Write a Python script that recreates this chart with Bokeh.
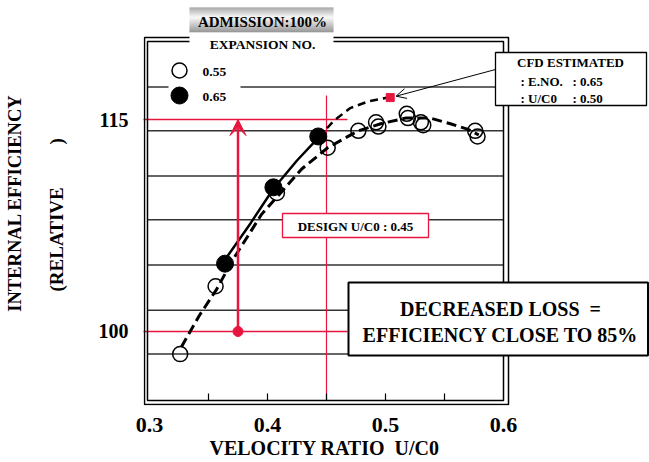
from bokeh.plotting import figure
from bokeh.models import Label, Arrow, VeeHead, OpenHead, Range1d, FixedTicker, LinearAxis, Title
from bokeh.embed import file_html
from bokeh.resources import INLINE

# ---------------- data ----------------
X_TICKS = [0.3, 0.4, 0.5, 0.6]
Y_TICKS = [100, 115]
GRID_Y = [98.4, 101.5, 104.7, 107.9, 111.0, 114.2, 117.3]
MINOR_X = [0.35, 0.40, 0.45, 0.50, 0.55]

# expansion no. 0.55 (open circles)
EN055_X = [0.326, 0.356, 0.408, 0.451, 0.477, 0.492, 0.494, 0.518, 0.519, 0.530, 0.532, 0.576, 0.578]
EN055_Y = [98.4, 103.2, 109.8, 113.0, 114.2, 114.8, 114.5, 115.4, 115.1, 114.8, 114.6, 114.2, 113.8]
# expansion no. 0.65 (filled circles)
EN065_X = [0.364, 0.405, 0.443]
EN065_Y = [104.8, 110.2, 113.8]

# fitted curves
FIT055_X = [0.327, 0.342, 0.357, 0.370, 0.383, 0.395, 0.410, 0.429, 0.451, 0.466, 0.477, 0.496, 0.517, 0.538, 0.555, 0.570, 0.579]
FIT055_Y = [98.9, 101.1, 103.0, 105.0, 106.7, 108.3, 109.7, 111.5, 113.0, 113.7, 114.2, 114.7, 115.1, 115.1, 114.7, 114.3, 113.9]
FIT065_X = [0.365, 0.386, 0.405, 0.425, 0.443]
FIT065_Y = [105.2, 107.7, 110.1, 112.1, 113.7]
EXT065_X = [0.443, 0.456, 0.470, 0.486, 0.502]
EXT065_Y = [113.7, 114.9, 115.8, 116.3, 116.55]

# CFD estimate
CFD_X = [0.504]
CFD_Y = [116.55]
CFD_EXPANSION = "0.65"
CFD_UC0 = "0.50"

DESIGN_UC0 = 0.45
REF_EFF = [100, 115]
ARROW_X = 0.375

RED = "#e8163e"
FONT = "Liberation Serif"
NB = "\u00a0"

# ---------------- layout ----------------
W, H = 649, 462
FL, FR, FT, FB = 143, 649, 0, 405          # frame edges in page pixels
X0, X1 = 0.294915, 0.723729
Y0, Y1 = 94.764, 123.420


def dx(px):
    return X0 + (px - FL) * (X1 - X0) / (FR - FL)


def dy(py):
    return Y1 - (py - FT) * (Y1 - Y0) / (FB - FT)


p = figure(width=W, height=H, x_range=Range1d(X0, X1), y_range=Range1d(Y0, Y1),
           output_backend="svg", toolbar_location=None,
           min_border_left=FL, min_border_right=W - FR, min_border_top=FT,
           min_border_bottom=H - FB)
p.outline_line_color = None
p.grid.visible = False
p.background_fill_color = "white"
p.border_fill_color = "white"

for ax, ticks, size, standoff in ((p.xaxis, X_TICKS, "22px", 12), (p.yaxis, Y_TICKS, "20px", 15)):
    ax.ticker = FixedTicker(ticks=ticks)
    ax.axis_line_color = None
    ax.major_tick_line_color = None
    ax.minor_tick_line_color = None
    ax.major_tick_out = 0
    ax.major_tick_in = 0
    ax.major_label_text_font = FONT
    ax.major_label_text_font_style = "bold"
    ax.major_label_text_font_size = size
    ax.major_label_text_color = "black"
    ax.major_label_standoff = standoff

# y-axis titles (two rotated lines)
p.yaxis.axis_label = "(RELATIVE" + NB * 9 + ")" + NB * 5
p.yaxis.axis_label_standoff = 29
ax2 = LinearAxis(ticker=FixedTicker(ticks=[]), axis_label="INTERNAL EFFICIENCY",
                 axis_line_color=None, major_tick_line_color=None, minor_tick_line_color=None,
                 major_tick_out=0, major_tick_in=0, major_label_standoff=0,
                 axis_label_standoff=18)
p.add_layout(ax2, "left")
for ax, fs in ((p.yaxis[0], "19px"), (ax2, "18.5px")):
    ax.axis_label_text_font = FONT
    ax.axis_label_text_font_style = "bold"
    ax.axis_label_text_font_size = fs
    ax.axis_label_text_color = "black"

# x-axis title
p.add_layout(Title(text="VELOCITY RATIO" + NB * 2 + "U/C0", align="left", offset=66,
                   standoff=0, text_font=FONT, text_font_style="bold",
                   text_font_size="20px", text_color="black"), "below")

# grid lines
p.segment(x0=dx(147), x1=dx(503), y0=GRID_Y, y1=GRID_Y, line_color="#333333", line_width=1.5)

# red reference lines
p.segment(x0=dx(140), x1=dx(347), y0=REF_EFF, y1=REF_EFF, line_color=RED, line_width=1.3)
p.segment(x0=[DESIGN_UC0], x1=[DESIGN_UC0], y0=dy(95), y1=dy(400), line_color=RED, line_width=1.2)

# double frame
p.quad(left=dx(147), right=dx(503), top=dy(41), bottom=dy(400), fill_color=None,
       line_color="black", line_width=1.5)
p.quad(left=dx(144), right=dx(508), top=dy(37), bottom=dy(404), fill_color=None,
       line_color="black", line_width=1.5)

# bottom tick marks
p.segment(x0=MINOR_X, x1=MINOR_X, y0=dy(400), y1=dy(393), line_color="black", line_width=1.2)

# curves
p.line(FIT055_X, FIT055_Y, line_color="black", line_width=3, line_dash="10 5")
p.line(FIT065_X, FIT065_Y, line_color="black", line_width=2.5)
p.line(EXT065_X, EXT065_Y, line_color="black", line_width=2.5, line_dash="8 5")

# markers
p.scatter(EN055_X, EN055_Y, marker="circle", size=15, fill_color=None,
          line_color="black", line_width=1.5)
p.scatter(EN065_X, EN065_Y, marker="circle", size=17, fill_color="black", line_color="black")
p.scatter(CFD_X, CFD_Y, marker="square", size=8, fill_color=RED, line_color=RED)

# red design arrow + dot
p.add_layout(Arrow(x_start=ARROW_X, y_start=REF_EFF[0], x_end=ARROW_X, y_end=REF_EFF[1],
                   line_color=RED, line_width=2.5,
                   end=VeeHead(size=16, fill_color=RED, line_color=RED)))
p.scatter([ARROW_X], [REF_EFF[0]], marker="circle", size=10, fill_color=RED, line_color=RED)


def gray(l):
    v = max(0, min(255, int(round(l * 255))))
    return "#%02x%02x%02x" % (v, v, v)


# ADMISSION gradient box
n = 25
lefts, rights, tops, bottoms, cols = [], [], [], [], []
for i in range(n):
    t = (i + 0.5) / n
    l = 0.55 + 0.42 * (t / 0.4) if t < 0.4 else 0.97 - 0.52 * ((t - 0.4) / 0.6)
    lefts.append(dx(189)); rights.append(dx(333))
    tops.append(dy(7 + i)); bottoms.append(dy(8 + i))
    cols.append(gray(l))
p.quad(left=lefts, right=rights, top=tops, bottom=bottoms, fill_color=cols, line_color=None)

# legend white areas
p.quad(left=dx(189), right=dx(333), top=dy(32), bottom=dy(55), fill_color="white", line_color=None)
p.quad(left=dx(168), right=dx(240), top=dy(58), bottom=dy(106), fill_color="white", line_color=None)
p.scatter([dx(179)], [dy(70)], marker="circle", size=15, fill_color=None, line_color="black", line_width=1.5)
p.scatter([dx(179)], [dy(95)], marker="circle", size=17, fill_color="black", line_color="black")

# annotation boxes
p.quad(left=dx(495), right=dx(646), top=dy(52), bottom=dy(105), fill_color="white",
       line_color="black", line_width=1.3)
p.quad(left=dx(282), right=dx(428), top=dy(213), bottom=dy(237), fill_color="white",
       line_color=RED, line_width=1.3)
p.quad(left=dx(348), right=dx(647.5), top=dy(282), bottom=dy(355), fill_color="white",
       line_color="black", line_width=2)

# CFD leader arrow
p.add_layout(Arrow(x_start=dx(495), y_start=dy(69), x_end=CFD_X[0] + 0.005, y_end=CFD_Y[0] + 0.1,
                   line_color="black", line_width=1,
                   end=OpenHead(size=10, line_color="black", line_width=1)))


def txt(px, py, s, size, align="center"):
    p.add_layout(Label(x=dx(px), y=dy(py), text=s, text_font=FONT, text_font_style="bold",
                       text_font_size=size, text_align=align, text_baseline="middle",
                       text_color="black"))


txt(262, 21, "ADMISSION:100%", "15px")
txt(262, 44, "EXPANSION NO.", "13.5px")
txt(202, 71, "0.55", "13.5px", "left")
txt(202, 96, "0.65", "13.5px", "left")
txt(570, 62, "CFD ESTIMATED", "13px")
txt(520, 81, ": E.NO.", "13px", "left")
txt(572, 81, ": " + CFD_EXPANSION, "13px", "left")
txt(520, 98, ": U/C0", "13px", "left")
txt(572, 98, ": " + CFD_UC0, "13px", "left")
txt(355, 226, "DESIGN U/C0 : %.2f" % DESIGN_UC0, "13px")
txt(500, 308, "DECREASED LOSS" + NB * 2 + "=", "20px")
txt(500, 334, "EFFICIENCY CLOSE TO 85%", "20px")

open("out.html", "w").write(file_html(p, INLINE))
